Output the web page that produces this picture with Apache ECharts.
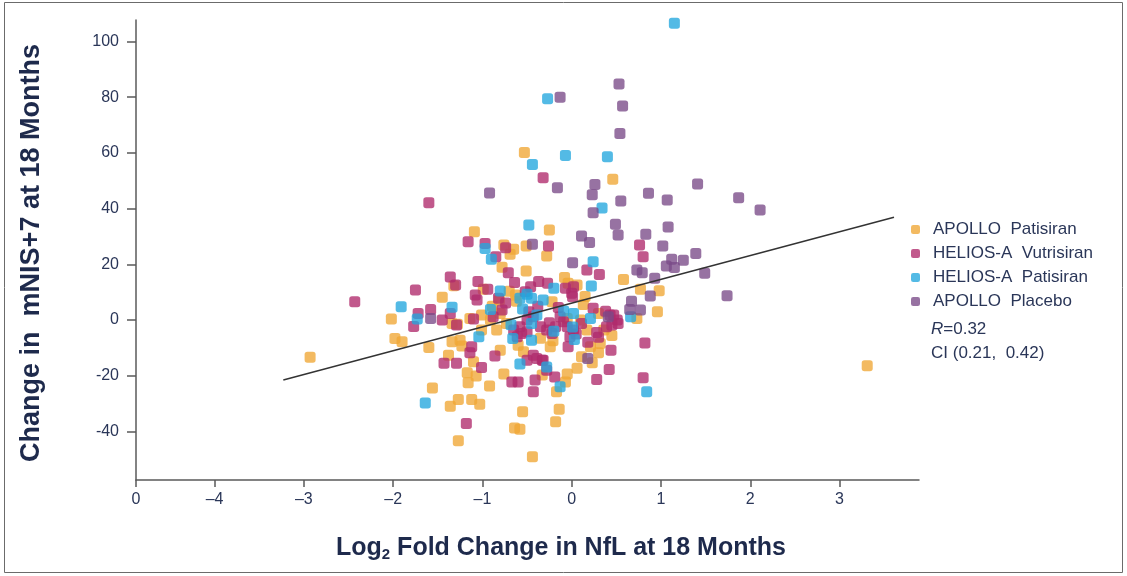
<!DOCTYPE html>
<html>
<head>
<meta charset="utf-8">
<script src="https://cdn.jsdelivr.net/npm/echarts@6/dist/echarts.min.js"></script>
<style>
  html, body { margin: 0; padding: 0; background: #ffffff; }
  #chart { width: 1127px; height: 576px; }
</style>
</head>
<body>
<div id="chart"></div>
<script>
// Log2 fold change in NfL (x) vs change in mNIS+7 (y), both at 18 months
const seriesNames = ['APOLLO  Patisiran', 'HELIOS-A  Vutrisiran', 'HELIOS-A  Patisiran', 'APOLLO  Placebo'];
const seriesColors = ['#F0A634', '#B02A6B', '#22A6DE', '#7A4A88'];

const apolloPatisiran = [
  [-2.93,-13.3],[3.31,-16.4],[-2.02,0.4],[-1.98,-6.6],[-1.90,-7.8],[-1.56,-24.4],[-1.60,-9.8],
  [-0.53,60.1],[0.46,50.5],[-0.44,-49.1],[-1.09,31.7],[-0.76,26.9],[-0.65,25.4],[-0.69,23.6],[-0.51,26.6],
  [-0.78,19.0],[-0.51,17.6],[-1.32,12.3],[-1.45,8.2],[-0.99,11.1],[-0.70,10.3],[-1.14,0.6],[-1.28,-1.5],
  [-1.34,-1.2],[-0.62,6.8],[-1.34,-7.8],[-1.25,-7.2],[-1.23,-9.3],[-1.38,-12.6],[-1.10,-15.0],[-0.80,-10.8],
  [-1.17,-18.9],[-1.07,-20.1],[-1.16,-22.5],[-0.76,-19.4],[-0.92,-23.7],[-1.36,-30.9],[-1.27,-28.5],[-1.12,-28.5],[-1.03,-30.2],
  [-0.55,-32.9],[-0.64,-38.7],[-0.58,-39.2],[-1.27,-43.3],[-0.54,-11.4],[-0.25,32.3],[-0.28,23.0],
  [-0.08,15.3],[-0.04,13.2],[0.06,12.6],[0.58,14.6],[0.77,11.1],[0.98,10.5],[-0.22,6.6],[0.13,5.6],[0.96,3.0],[0.73,0.6],
  [-0.21,-7.4],[-0.24,-9.6],[0.30,-11.7],[0.23,-15.3],[0.06,-17.3],[-0.05,-19.4],[-0.33,-19.7],[-0.07,-22.2],
  [-0.17,-25.7],[-0.14,-32.0],[-0.18,-36.5],
  [-1.01,1.8],[-0.91,0.0],[-0.80,2.4],[-1.01,-3.6],[-0.84,-3.6],[-0.73,-1.2],[-0.05,0.6],[0.10,0.0],
  [0.30,2.4],[0.36,-3.6],[0.32,-8.4],[0.21,-9.6],[0.11,-13.2],[0.17,-3.6],[-0.89,5.0],[-0.63,9.0],[-0.81,7.2],
  [-0.35,-6.5],[0.45,-5.5],[-0.60,-9.0],[0.15,8.5]
];

const heliosVutrisiran = [
  [-2.43,6.6],[-1.75,10.8],[-1.72,2.4],[-1.77,-2.3],[-1.58,3.8],[-1.60,42.1],[-0.32,51.1],[-1.16,28.1],
  [-0.97,27.5],[-0.74,26.0],[-0.85,22.7],[-0.26,26.6],[-0.71,17.0],[-1.36,15.5],[-1.30,12.6],[-1.05,13.8],
  [-0.94,11.1],[-1.08,9.0],[-1.06,7.2],[-0.82,7.8],[-0.74,6.1],[-1.45,0.0],[-1.10,0.4],[-0.64,13.5],
  [-0.52,10.2],[0.80,22.7],[0.76,26.9],[0.17,18.0],[0.31,16.4],[-0.27,13.2],[-0.07,11.4],[0.01,8.4],
  [0.24,4.2],[0.38,3.2],[0.43,1.8],[0.51,0.0],[0.52,-1.2],[0.39,-2.4],[0.30,-6.2],[0.82,-8.2],
  [0.18,-8.0],[-0.04,-9.6],[0.44,-10.8],[0.42,-17.7],[-0.19,-20.4],[0.28,-21.3],[0.80,-20.7],[-0.33,-14.4],
  [-1.12,-9.6],[-1.14,-11.7],[-1.43,-15.5],[-1.29,-15.5],[-1.01,-17.0],[-0.86,-12.9],[-0.67,-22.2],[-0.60,-22.2],
  [-0.41,-21.5],[-0.43,-25.7],[-1.18,-37.1],[-0.56,-4.8],[-0.43,-12.6],[-0.50,-14.4],[-1.36,2.4],[-1.29,-1.8],
  [-0.88,1.2],[-0.78,3.6],[-0.65,-3.6],[-0.58,-2.4],[-0.50,0.0],[-0.43,1.2],[-0.48,3.0],[-0.61,-6.0],
  [-0.50,-4.2],[-0.35,-2.4],[-0.28,-3.6],[-0.22,-4.8],[-0.18,-2.4],[-0.13,1.2],[-0.09,-0.6],[-0.05,-2.4],
  [-0.02,-6.0],[0.02,-3.6],[0.11,-1.2],[0.47,1.8],[0.45,-1.8],[-0.46,12.0],[-0.37,13.8],[0.00,9.6],
  [0.02,12.0],[-0.39,-13.8],[-0.32,-14.4],[-0.28,-18.0],
  [-0.38,5.0],[-0.25,-1.0],[0.05,-5.0],[-0.15,4.5],[0.28,-4.5]
];

const heliosPatisiran = [
  [1.15,106.5],[-0.27,79.4],[-0.07,59.1],[0.40,58.6],[-0.44,55.8],[0.34,40.2],[-0.48,34.1],[-0.97,25.7],
  [-0.90,21.8],[-0.80,10.4],[-1.91,4.8],[-1.34,4.6],[-1.73,0.4],[-0.91,3.8],[-0.58,7.8],[-0.45,7.8],
  [-0.68,-1.7],[-1.04,-6.0],[0.24,20.9],[-0.20,11.4],[0.22,12.2],[-0.32,7.2],[0.66,1.2],[0.21,0.6],
  [-0.09,3.3],[0.02,2.4],[0.01,-2.5],[0.03,-7.0],[-0.28,-16.8],[-0.13,-23.9],[0.84,-25.7],[-1.64,-29.8],
  [-0.58,-15.8],[-0.66,-6.6],[-0.45,-7.2],[-0.45,-1.2],[-0.39,1.8],[-0.50,9.3],[-0.55,4.0],[-0.20,-4.0]
];

const apolloPlacebo = [
  [0.53,84.7],[-0.13,80.0],[0.57,76.8],[0.54,67.0],[-0.16,47.5],[0.26,48.7],[0.23,45.0],[-0.92,45.6],
  [0.55,42.7],[0.86,45.5],[1.07,43.1],[1.41,48.8],[1.87,43.9],[2.11,39.5],[0.24,38.5],[0.49,34.4],
  [1.08,33.4],[-0.44,27.2],[0.52,30.5],[0.11,30.2],[0.20,27.8],[0.83,30.8],[1.02,26.6],[1.39,23.9],
  [0.01,20.6],[0.73,18.0],[0.79,17.0],[1.06,19.4],[1.15,18.9],[1.12,21.8],[1.25,21.5],[0.93,15.0],
  [1.49,16.8],[0.88,8.6],[0.67,6.8],[0.65,3.8],[0.77,3.6],[0.41,1.2],[1.74,8.7],[0.18,-13.8],[-1.58,0.6]
];

// fitted regression line end points
const fitLine = [[-3.23,-21.5],[3.61,36.9]];

// axis ranges and ticks
const xRange = [-4.88, 3.89];
const xTickValues = [-4.88, -4, -3, -2, -1, 0, 1, 2, 3];
const xTickLabels = ['0', '–4', '–3', '–2', '–1', '0', '1', '2', '3'];
const yRange = [-57.4, 107.7];
const yTickValues = [-40, -20, 0, 20, 40, 60, 80, 100];
const yTickLabels = ['-40', '-20', '0', '20', '40', '60', '80', '100'];

const statR = '0.32';
const statCI = 'CI (0.21,  0.42)';

const FONT = '"Liberation Sans", Arial, Helvetica, sans-serif';
const NAVY = '#2A3658';
const TITLE = '#1E2A4C';
const AXIS = '#5a5a5a';

const groups = [apolloPatisiran, heliosVutrisiran, heliosPatisiran, apolloPlacebo];

const chart = echarts.init(document.getElementById('chart'), null, { renderer: 'canvas' });

const scatterSeries = groups.map((data, i) => ({
  name: seriesNames[i],
  type: 'scatter',
  data: data,
  symbol: 'roundRect',
  symbolSize: 11,
  itemStyle: { color: seriesColors[i], opacity: 0.78 },
  emphasis: { disabled: true },
  z: 2
}));

chart.setOption({
  animation: false,
  backgroundColor: '#ffffff',
  grid: { left: 136, right: 208, top: 20, bottom: 96, containLabel: false },
  xAxis: {
    type: 'value',
    min: xRange[0],
    max: xRange[1],
    axisLine: { show: true, onZero: false, lineStyle: { color: AXIS, width: 1.5 } },
    axisTick: { show: true, length: 7, customValues: xTickValues, lineStyle: { color: AXIS, width: 1.5 } },
    axisLabel: {
      customValues: xTickValues,
      margin: 12,
      fontFamily: FONT, fontSize: 16, color: NAVY,
      formatter: (v) => {
        const k = xTickValues.findIndex(t => Math.abs(t - v) < 1e-6);
        return k >= 0 ? xTickLabels[k] : '';
      }
    },
    splitLine: { show: false }
  },
  yAxis: {
    type: 'value',
    min: yRange[0],
    max: yRange[1],
    axisLine: { show: true, onZero: false, lineStyle: { color: AXIS, width: 1.5 } },
    axisTick: { show: true, length: 9, customValues: yTickValues, lineStyle: { color: AXIS, width: 1.5 } },
    axisLabel: {
      customValues: yTickValues,
      margin: 17,
      fontFamily: FONT, fontSize: 16, color: NAVY,
      formatter: (v) => {
        const k = yTickValues.findIndex(t => Math.abs(t - v) < 1e-6);
        return k >= 0 ? yTickLabels[k] : '';
      }
    },
    splitLine: { show: false }
  },
  legend: {
    orient: 'vertical',
    left: 906,
    top: 216,
    data: seriesNames,
    icon: 'roundRect',
    itemWidth: 9,
    itemHeight: 9,
    itemGap: 7,
    selectedMode: false,
    textStyle: { fontFamily: FONT, fontSize: 17, color: NAVY, padding: [0, 0, 0, 8] }
  },
  graphic: [
    {
      type: 'rect',
      silent: true,
      shape: { x: 4.5, y: 2.5, width: 1118, height: 570 },
      style: { fill: 'none', stroke: '#6b6b6b', lineWidth: 1 }
    },
    {
      type: 'text',
      x: 32, y: 253,
      rotation: Math.PI / 2,
      style: {
        text: 'Change in  mNIS+7 at 18 Months',
        font: 'bold 27px ' + FONT,
        fill: TITLE,
        align: 'center',
        verticalAlign: 'middle'
      }
    },
    {
      type: 'text',
      x: 561, y: 548,
      style: {
        text: '{m|Log}{s|2}{m| Fold Change in NfL at 18 Months}',
        align: 'center',
        verticalAlign: 'middle',
        rich: {
          m: { font: 'bold 25px ' + FONT, fill: TITLE },
          s: { font: 'bold 15px ' + FONT, fill: TITLE, padding: [14, 0, 0, 0] }
        }
      }
    },
    {
      type: 'text',
      x: 931, y: 329,
      style: {
        text: '{i|R}{n|=' + statR + '}',
        verticalAlign: 'middle',
        rich: {
          i: { font: 'italic 17px ' + FONT, fill: NAVY },
          n: { font: '17px ' + FONT, fill: NAVY }
        }
      }
    },
    {
      type: 'text',
      x: 931, y: 353,
      style: { text: statCI, font: '17px ' + FONT, fill: NAVY, verticalAlign: 'middle' }
    }
  ],
  series: scatterSeries.concat([{
    name: 'fit',
    type: 'line',
    data: fitLine,
    symbol: 'none',
    silent: true,
    lineStyle: { color: '#333333', width: 1.4 },
    z: 3
  }])
});
</script>
</body>
</html>
